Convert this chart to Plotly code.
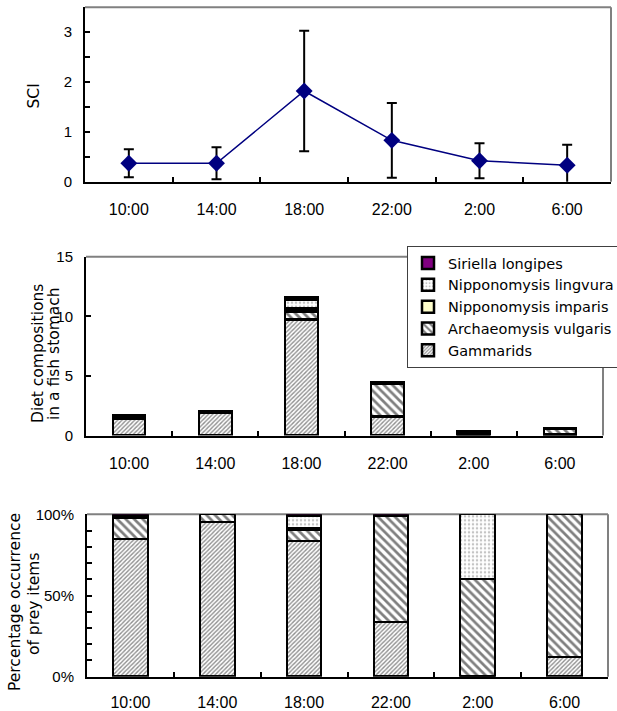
import plotly.graph_objects as go

times = ["10:00", "14:00", "18:00", "22:00", "2:00", "6:00"]

# Panel 1: SCI mean and SD
sci_mean = [0.37, 0.37, 1.82, 0.83, 0.42, 0.33]
sci_err = [0.28, 0.32, 1.21, 0.75, 0.35, 0.41]

# Panel 2: diet composition (items per stomach)
diet_gammarids = [1.39, 1.90, 9.72, 1.58, 0.00, 0.07]
diet_archaeo = [0.22, 0.10, 0.70, 2.75, 0.17, 0.49]
diet_imparis = [0.02, 0.00, 0.18, 0.00, 0.00, 0.00]
diet_lingvura = [0.00, 0.00, 0.80, 0.00, 0.11, 0.00]
diet_siriella = [0.03, 0.00, 0.16, 0.06, 0.00, 0.00]

# Panel 3: percentage occurrence
pct_gammarids = [84.8, 95.1, 83.6, 33.7, 0.0, 12.0]
pct_archaeo = [12.8, 4.9, 6.4, 64.8, 60.0, 88.0]
pct_imparis = [1.2, 0.0, 1.5, 0.0, 0.0, 0.0]
pct_lingvura = [0.0, 0.0, 7.5, 0.0, 40.0, 0.0]
pct_siriella = [1.2, 0.0, 1.0, 1.5, 0.0, 0.0]

names = ["Gammarids", "Archaeomysis vulgaris", "Nipponomysis imparis",
         "Nipponomysis lingvura", "Siriella longipes"]

W, H = 617, 711

def px_x(v):
    return v / W

def px_y(v):
    return 1 - v / H

styles = [
    dict(color="white", pattern=dict(shape="/", size=3, solidity=0.45, fgcolor="#202020", bgcolor="white", fillmode="overlay")),
    dict(color="white", pattern=dict(shape="\\", size=6, solidity=0.45, fgcolor="black", bgcolor="white", fillmode="overlay")),
    dict(color="#FFFFCC"),
    dict(color="white", pattern=dict(shape=".", size=4, solidity=0.3, fgcolor="#888888", bgcolor="white", fillmode="overlay")),
    dict(color="#800080"),
]

fig = go.Figure()

fig.add_trace(go.Scatter(
    x=times, y=sci_mean, mode="lines+markers",
    line=dict(color="#000080", width=1.5),
    marker=dict(symbol="diamond", size=13, color="#000080"),
    error_y=dict(type="data", array=sci_err, color="black", thickness=2, width=5),
    xaxis="x", yaxis="y", showlegend=False,
))

diet = [diet_gammarids, diet_archaeo, diet_imparis, diet_lingvura, diet_siriella]
pct = [pct_gammarids, pct_archaeo, pct_imparis, pct_lingvura, pct_siriella]

for name, vals, st in zip(names, diet, styles):
    m = dict(st)
    m["line"] = dict(color="black", width=2.5)
    fig.add_trace(go.Bar(x=times, y=vals, name=name, marker=m, width=0.38,
                         xaxis="x2", yaxis="y2", showlegend=True))

for name, vals, st in zip(names, pct, styles):
    m = dict(st)
    m["line"] = dict(color="black", width=2.5)
    fig.add_trace(go.Bar(x=times, y=[v / 100 for v in vals], name=name, marker=m, width=0.4,
                         xaxis="x3", yaxis="y3", showlegend=False))

tickfont_x = dict(family="Liberation Sans, Arial, sans-serif", size=16, color="black")
tickfont_y = dict(family="Liberation Sans, Arial, sans-serif", size=15, color="black")
titlefont = dict(family="DejaVu Sans, sans-serif", size=15.5, color="black")

xcommon = dict(type="category", categoryorder="array", categoryarray=times,
               range=[-0.5, 5.5], showline=True, linecolor="black", linewidth=2,
               ticks="inside", ticklen=5, tickwidth=1.5, tickcolor="black",
               tickson="boundaries", ticklabelstandoff=12, showgrid=False,
               zeroline=False, tickfont=tickfont_x, fixedrange=True)
ycommon = dict(showline=True, linecolor="black", linewidth=2, ticks="inside",
               ticklen=5, tickwidth=1.5, tickcolor="black", showgrid=False,
               zeroline=False, tickfont=tickfont_y, ticklabelstandoff=8, fixedrange=True)

dom1x = [px_x(85), px_x(611)]
dom1y = [px_y(181.7), px_y(7.3)]
dom2x = [px_x(86), px_x(603)]
dom2y = [px_y(435.5), px_y(256.7)]
dom3x = [px_x(87), px_x(608)]
dom3y = [px_y(676.7), px_y(514.3)]

fig.update_layout(
    width=W, height=H, margin=dict(l=0, r=0, t=0, b=0, autoexpand=False),
    paper_bgcolor="white", plot_bgcolor="white", barmode="stack", bargap=0,
    font=tickfont_x,
    xaxis=dict(xcommon, domain=dom1x, anchor="y"),
    yaxis=dict(ycommon, domain=dom1y, anchor="x", range=[0, 3.5], dtick=1,
               minor=dict(dtick=0.5, ticks="inside", ticklen=5, tickcolor="black", tickwidth=1.5)),
    xaxis2=dict(xcommon, domain=dom2x, anchor="y2"),
    yaxis2=dict(ycommon, domain=dom2y, anchor="x2", range=[0, 15], dtick=5),
    xaxis3=dict(xcommon, domain=dom3x, anchor="y3", ticklabelstandoff=10),
    yaxis3=dict(ycommon, domain=dom3y, anchor="x3", range=[0, 1], dtick=0.5, tickformat=".0%",
                minor=dict(dtick=0.1, ticks="inside", ticklen=5, tickcolor="black", tickwidth=1.5)),
    legend=dict(x=px_x(407), y=px_y(246), xanchor="left", yanchor="top",
                traceorder="reversed", bgcolor="white", bordercolor="#404040", borderwidth=1,
                font=dict(family="DejaVu Sans, sans-serif", size=14.5, color="black"),
                itemwidth=30, tracegroupgap=0),
    showlegend=True,
)

# grey top/right frame lines
for xr, yr in (("x domain", "y domain"), ("x2 domain", "y2 domain"), ("x3 domain", "y3 domain")):
    fig.add_shape(type="line", xref=xr, yref=yr, x0=0, x1=1, y0=1, y1=1,
                  line=dict(color="#808080", width=2), layer="below")
    fig.add_shape(type="line", xref=xr, yref=yr, x0=1, x1=1, y0=0, y1=1,
                  line=dict(color="#808080", width=2), layer="below")

ann = dict(xref="paper", yref="paper", textangle=-90, showarrow=False, font=titlefont,
           xanchor="center", yanchor="middle")
fig.add_annotation(text="SCI", x=px_x(33.5), y=px_y(96), **ann)
fig.add_annotation(text="Diet compositions", x=px_x(38), y=px_y(354), **ann)
fig.add_annotation(text="in a fish stomach", x=px_x(54), y=px_y(354), **ann)
fig.add_annotation(text="Percentage occurrence", x=px_x(15), y=px_y(602), **ann)
fig.add_annotation(text="of prey items", x=px_x(34), y=px_y(604), **ann)

fig.write_html("out.html", config={"displayModeBar": False},
               post_script="document.body.style.margin='0';")
